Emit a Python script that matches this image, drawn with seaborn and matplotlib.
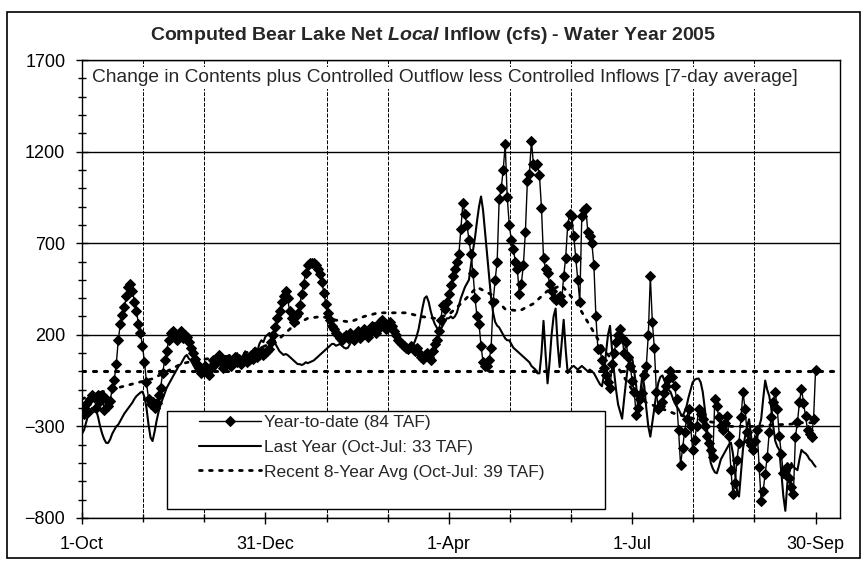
import numpy as np
import pandas as pd
import matplotlib
matplotlib.use("Agg")
import matplotlib.pyplot as plt
from matplotlib.patches import Rectangle
import seaborn as sns

# daily 7-day average net local inflow (cfs), water year 2005
ytd_oct = [-200, -230, -180, -220, -150, -130, -140, -200, -130, -160, -130, -210, -150, -190, -160,
           -90, -45, 40, 170, 260, 310, 350, 410, 460, 480, 440, 380, 330, 260, 210, 140]
ytd_nov = [50, -60, -150, -180, -165, -200, -170, -130, -90, -10, 60, 110, 170, 210, 220,
           190, 170, 200, 220, 180, 200, 190, 160, 130, 100, 70, 40, 20, -10, 0]
ytd_dec = [30, 10, -20, 20, 60, 40, 70, 90, 50, 20, 60, 40, 70, 30, 60, 80,
           50, 70, 40, 60, 80, 50, 60, 90, 70, 100, 80, 90, 110, 90, 100]
ytd_jan = [110, 120, 160, 200, 240, 290, 330, 380, 410, 440, 400, 330, 290, 270, 300, 320,
           360, 420, 480, 540, 580, 590, 590, 590, 580, 560, 530, 490, 430, 370, 320]
ytd_feb = [280, 250, 230, 210, 200, 180, 170, 190, 200, 180, 210, 190, 170, 200,
           220, 180, 200, 230, 210, 190, 220, 250, 240, 210, 230, 270, 280, 250]
ytd_mar = [230, 240, 270, 250, 220, 200, 170, 160, 150, 140, 130, 120, 140, 130, 110, 130,
           100, 80, 70, 90, 100, 80, 60, 110, 150, 170, 220, 280, 360, 340, 380]
ytd_apr = [420, 470, 520, 560, 600, 640, 780, 920, 860, 800, 720, 640, 540, 400, 300,
           260, 140, 50, 30, 30, 60, 130, 380, 500, 600, 940, 1000, 1100, 1240, 950]
ytd_may = [800, 720, 670, 600, 560, 420, 480, 580, 760, 1040, 1080, 1260, 1130, 1120, 1130, 1070,
           890, 620, 560, 540, 480, 440, 400, 390, 400, 410, 380, 520, 620, 800, 860]
ytd_jun = [850, 740, 620, 500, 380, 850, 880, 890, 760, 740, 700, 580, 300, 120, 120,
           60, 20, -20, -60, -90, 40, 100, 160, 200, 230, 180, 100, 160, 80, 30]
ytd_jul = [-50, -110, -240, -200, -150, -117, -22, 30, 200, 520, 270, 128, -111, -206, -190, -167,
           -120, -78, -40, 0, -30, -78, -150, -317, -511, -420, -330, -260, -206, -300, -428]
ytd_aug = [-372, -300, -206, -230, -261, -300, -350, -389, -430, -467, -150, -189, -250, -300, -320, -280,
           -244, -350, -539, -667, -611, -483, -389, -250, -111, -206, -333, -380, -400, -428, -380]
ytd_sep = [-317, -522, -706, -650, -560, -467, -333, -250, -167, -111, -206, -350, -450, -556, -540,
           -522, -580, -630, -667, -356, -278, -167, -94, -170, -244, -317, -340, -356, -261, 10]

last_oct = [-340, -320, -280, -240, -210, -200, -220, -210, -250, -300, -340, -370, -390, -390, -370, -340,
            -320, -300, -290, -270, -250, -230, -215, -200, -185, -170, -150, -135, -125, -115, -110]
last_nov = [-140, -200, -290, -360, -380, -330, -270, -220, -180, -150, -120, -90, -70, -50, -30,
            -10, 10, 30, 40, 60, 80, 90, 70, 60, 40, 20, 10, 0, -20, -10]
last_dec = [10, 30, 20, 50, 60, 40, 70, 50, 80, 60, 40, 70, 90, 60, 50, 80,
            100, 70, 60, 90, 110, 80, 70, 100, 120, 130, 110, 150, 170, 160, 190]
last_jan = [200, 210, 190, 170, 150, 130, 110, 100, 90, 95, 90, 80, 70, 60, 50, 40,
            40, 35, 40, 50, 45, 50, 55, 60, 70, 80, 90, 100, 110, 120, 130]
last_feb = [140, 150, 150, 140, 145, 150, 140, 130, 125, 130, 150, 170, 180, 200,
            190, 200, 210, 215, 220, 210, 220, 230, 240, 250, 260, 270, 265, 260]
last_mar = [250, 245, 240, 230, 220, 210, 190, 175, 165, 160, 150, 140, 130, 140, 160, 190,
            230, 290, 350, 400, 410, 380, 330, 290, 260, 240, 220, 230, 250, 270, 290]
last_apr = [290, 300, 290, 300, 320, 360, 400, 430, 460, 480, 500, 580, 660, 730, 820,
            900, 955, 880, 760, 640, 520, 400, 320, 270, 250, 240, 220, 200, 180, 170]
last_may = [170, 150, 130, 120, 110, 100, 90, 80, 70, 60, 50, 30, 20, 10, -10, -10,
            100, 276, 100, -65, 50, 200, 300, 343, 150, 24, 150, 282, 120, -9, 10]
last_jun = [24, 30, 20, 10, 20, 30, 20, 10, 0, 10, 0, -9, -30, -50, -70,
            -81, -20, 100, 200, 249, 120, 0, -100, -180, -220, -258, -150, -50, 40, 60]
last_jul = [72, 0, -80, -206, -120, -22, -80, -200, -300, -356, -280, -200, -120, -60, -30, -22,
            -50, -80, -100, -111, -140, -170, -190, -206, -230, -244, -220, -189, -140, -100, -60]
last_aug = [-45, -40, -39, -60, -111, -200, -300, -420, -500, -530, -550, -556, -520, -480, -460, -440,
            -420, -400, -389, -450, -550, -650, -683, -550, -420, -356, -300, -261, -350, -444, -400]
last_sep = [-360, -300, -261, -150, -50, -100, -133, -200, -300, -380, -410, -428, -550, -680, -761,
            -611, -550, -500, -520, -530, -539, -480, -428, -440, -447, -460, -480, -489, -506, -520]

ytd = ytd_oct + ytd_nov + ytd_dec + ytd_jan + ytd_feb + ytd_mar + ytd_apr + ytd_may + ytd_jun + ytd_jul + ytd_aug + ytd_sep
last_year = (last_oct + last_nov + last_dec + last_jan + last_feb + last_mar + last_apr + last_may
             + last_jun + last_jul + last_aug + last_sep)

# recent 8-year average, weekly
avg8_day = [0, 7, 14, 21, 28, 35, 42, 49, 56, 63, 70, 77, 84, 91, 98, 105, 112, 119, 126, 133, 140, 147,
            154, 161, 168, 175, 182, 189, 196, 203, 210, 217, 224, 231, 238, 245, 252, 259, 266, 273,
            280, 287, 294, 301, 308, 315, 322, 329, 336, 343, 350, 357, 364]
avg8 = [-150, -120, -100, -80, -60, -40, 0, 40, 60, 70, 80, 90, 110, 140, 180, 250, 290, 300, 280, 270, 300, 320,
        320, 320, 300, 290, 310, 380, 460, 420, 340, 330, 370, 440, 470, 380, 250, 120, 20, -100,
        -170, -200, -230, -250, -270, -280, -300, -300, -300, -290, -290, -280, -280]
avg_level = 0

tick_days = [0, 91, 182, 273, 364]
tick_labels = ["1-Oct", "31-Dec", "1-Apr", "1-Jul", "30-Sep"]
y_ticks = [-800, -300, 200, 700, 1200, 1700]
legend_labels = ["Year-to-date (84 TAF)", "Last Year (Oct-Jul: 33 TAF)", "Recent 8-Year Avg (Oct-Jul: 39 TAF)"]

sns.set_theme(style="white")
plt.rcParams["font.family"] = ["Liberation Sans", "DejaVu Sans"]
plt.rcParams["mathtext.fontset"] = "custom"
plt.rcParams["mathtext.it"] = "Liberation Sans:italic:bold"
plt.rcParams["mathtext.rm"] = "Liberation Sans:bold"

fig = plt.figure(figsize=(8.66, 5.65), dpi=100)
ax = fig.add_axes([0.0947, 0.0832, 0.875, 0.8106])

df = pd.DataFrame({"day": np.arange(len(ytd)), "ytd": ytd, "last": last_year})
avg_df = pd.DataFrame({"day": avg8_day, "avg": avg8})

dots = (0, (1, 2.6))
sns.lineplot(data=avg_df, x="day", y="avg", ax=ax, color="black", lw=2.0, linestyle=dots,
             dash_capstyle="round", label=legend_labels[2], zorder=2)
ax.axhline(avg_level, color="black", lw=2.2, linestyle=dots, dash_capstyle="round", zorder=2)
sns.lineplot(data=df, x="day", y="last", ax=ax, color="black", lw=1.5, label=legend_labels[1], zorder=3)
sns.lineplot(data=df, x="day", y="ytd", ax=ax, color="black", lw=1.0, marker="D", ms=5.5,
             markeredgecolor="black", label=legend_labels[0], zorder=3)

ax.set_xlim(0, 376)
ax.set_ylim(-800, 1700)
ax.set_xlabel("")
ax.set_ylabel("")
ax.set_xticks(tick_days)
ax.set_xticklabels(tick_labels)
ax.set_xticks(np.arange(0, 377, 91 / 3), minor=True)
ax.set_yticks(y_ticks)
ax.set_yticks(np.arange(-800, 1701, 100), minor=True)
ax.set_axisbelow(True)
ax.grid(True, which="minor", axis="x", color="black", lw=0.7, linestyle=(0, (4, 1.5)))
ax.grid(True, which="major", axis="y", color="black", lw=1.0)
ax.tick_params(axis="both", which="major", direction="inout", length=8, width=1, color="black",
               labelsize=13, labelcolor="black", bottom=True, left=True)
ax.tick_params(axis="both", which="minor", direction="inout", length=6, width=1, color="black",
               bottom=True, left=True)
ax.tick_params(axis="y", pad=8)
ax.tick_params(axis="x", pad=9)
for s in ax.spines.values():
    s.set_color("black")
    s.set_linewidth(1.0)

# legend box
ax.add_patch(Rectangle((0.112, 0.02), 0.578, 0.214, transform=ax.transAxes, facecolor="white",
                       edgecolor="black", lw=1.0, zorder=5))
h, l = ax.get_legend_handles_labels()
ax.get_legend().remove()
order = [l.index(t) for t in legend_labels]
leg = ax.legend([h[i] for i in order], [l[i] for i in order], loc="upper left",
                bbox_to_anchor=(0.154, 0.225), frameon=False, fontsize=12.5, handlelength=3.6,
                handletextpad=0.15, labelspacing=0.55, borderpad=0, borderaxespad=0)
leg.set_zorder(6)

ax.text(0.013, 0.961, "Change in Contents plus Controlled Outflow less Controlled Inflows [7-day average]",
        transform=ax.transAxes, fontsize=13.8, ha="left", va="center", zorder=6,
        bbox=dict(facecolor="white", edgecolor="none", pad=2))
fig.text(0.5, 0.938, r"Computed Bear Lake Net $Local$ Inflow (cfs) - Water Year 2005",
         ha="center", va="center", fontsize=14, fontweight="bold")

fig.add_artist(Rectangle((0.008, 0.012), 0.985, 0.966, transform=fig.transFigure, fill=False,
                         edgecolor="black", lw=1.2))

fig.savefig("out.png", dpi=100)
